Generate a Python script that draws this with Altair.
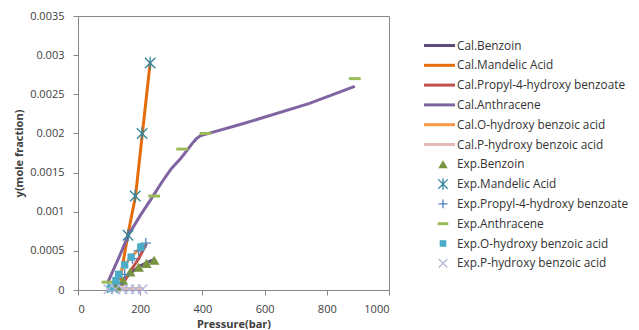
import altair as alt
import pandas as pd

# ---------------- data ----------------
cal_benzoin_p = [120, 145, 170, 200, 245]
cal_benzoin_y = [0.00002, 0.00012, 0.00022, 0.00031, 0.00039]

cal_mandelic_p = [135, 160, 185, 207, 232]
cal_mandelic_y = [0.00012, 0.0007, 0.0012, 0.002, 0.0029]

cal_propyl_p = [140, 165, 195, 220]
cal_propyl_y = [0.00005, 0.00022, 0.0004, 0.00059]

cal_anthracene_p = [95, 130, 163, 200, 238, 270, 300, 330, 350, 367, 380, 393, 420, 527, 742, 890]
cal_anthracene_y = [0.00009, 0.0004, 0.00071, 0.00095, 0.00118, 0.00138, 0.00155,
                    0.00168, 0.00178, 0.00187, 0.00193, 0.00197, 0.002, 0.00212, 0.00238, 0.0026]

cal_ohydroxy_p = [115, 131, 150, 171, 202]
cal_ohydroxy_y = [0.00002, 0.0002, 0.00032, 0.00042, 0.00055]

cal_phydroxy_p = [100, 130, 160, 190, 210]
cal_phydroxy_y = [0.00002, 0.00002, 0.00002, 0.00002, 0.00002]

exp_benzoin_p = [125, 145, 168, 195, 220, 245]
exp_benzoin_y = [0.00005, 0.00012, 0.00023, 0.00029, 0.00034, 0.00038]

exp_mandelic_p = [110, 161, 184, 206, 232]
exp_mandelic_y = [0.00003, 0.0007, 0.0012, 0.002, 0.0029]

exp_propyl_p = [130, 150, 175, 195, 218]
exp_propyl_y = [0.00008, 0.0002, 0.0004, 0.0005, 0.0006]

exp_anthracene_p = [95, 245, 335, 410, 890]
exp_anthracene_y = [0.0001, 0.0012, 0.0018, 0.002, 0.0027]

exp_ohydroxy_p = [104, 122, 131, 150, 171, 202]
exp_ohydroxy_y = [0.00002, 0.00012, 0.0002, 0.00032, 0.00042, 0.00055]

exp_phydroxy_p = [98, 120, 143, 165, 186, 208]
exp_phydroxy_y = [0.00001, 0.00001, 0.00001, 0.00001, 0.00001, 0.00001]

x_ticks = [0, 200, 400, 600, 800, 1000]
y_ticks = [0, 0.0005, 0.001, 0.0015, 0.002, 0.0025, 0.003, 0.0035]

cal_series = [
    ("Cal.Benzoin", cal_benzoin_p, cal_benzoin_y, "#604A7B"),
    ("Cal.Mandelic Acid", cal_mandelic_p, cal_mandelic_y, "#E46C0A"),
    ("Cal.Propyl-4-hydroxy benzoate", cal_propyl_p, cal_propyl_y, "#C0504D"),
    ("Cal.Anthracene", cal_anthracene_p, cal_anthracene_y, "#8064A2"),
    ("Cal.O-hydroxy benzoic acid", cal_ohydroxy_p, cal_ohydroxy_y, "#F79646"),
    ("Cal.P-hydroxy benzoic acid", cal_phydroxy_p, cal_phydroxy_y, "#E6B9B8"),
]

ASTER = "M-1,-1L1,1M-1,1L1,-1M0,-1.2L0,1.2"
PLUS = "M-1,0L1,0M0,-1L0,1"
DASH = "M-1,0L1,0"
XMARK = "M-1,-1L1,1M-1,1L1,-1"

exp_series = [
    ("Exp.Benzoin", exp_benzoin_p, exp_benzoin_y, "#77933C", "triangle-up", True, 110, 1),
    ("Exp.Mandelic Acid", exp_mandelic_p, exp_mandelic_y, "#31859C", ASTER, False, 110, 1.3),
    ("Exp.Propyl-4-hydroxy benzoate", exp_propyl_p, exp_propyl_y, "#4F81BD", PLUS, False, 100, 1.3),
    ("Exp.Anthracene", exp_anthracene_p, exp_anthracene_y, "#9BBB59", DASH, False, 140, 3),
    ("Exp.O-hydroxy benzoic acid", exp_ohydroxy_p, exp_ohydroxy_y, "#4BACC6", "square", True, 55, 1),
    ("Exp.P-hydroxy benzoic acid", exp_phydroxy_p, exp_phydroxy_y, "#B3B8D9", XMARK, False, 90, 1.3),
]

FONT = "Open Sans"
W, H = 311, 274
ydom = [0, 0.0035]

XAX = alt.Axis(values=x_ticks, title="Pressure(bar)", grid=False, format="d",
               tickSize=5, labelPadding=8, titlePadding=4)
XSC = alt.Scale(domain=[0, 1000], nice=False)

layers = []
first = True
for name, ps, ys, col in cal_series:
    df = pd.DataFrame({"p": ps, "y": ys, "o": list(range(len(ps)))})
    yax = alt.Axis(values=y_ticks, title="y(mole fraction)", grid=False, format="~g",
                   tickSize=5, labelPadding=9, titlePadding=5) if first else None
    first = False
    layers.append(
        alt.Chart(df).mark_line(color=col, strokeWidth=3).encode(
            x=alt.X("p:Q", scale=XSC, axis=XAX),
            y=alt.Y("y:Q", scale=alt.Scale(domain=ydom, nice=False), axis=yax),
            order="o:Q",
        )
    )

for name, ps, ys, col, shp, filled, size, sw in exp_series:
    df = pd.DataFrame({"p": ps, "y": ys})
    if filled:
        mk = alt.Chart(df).mark_point(shape=shp, filled=True, fill=col, size=size, opacity=1, strokeWidth=0)
    else:
        mk = alt.Chart(df).mark_point(shape=shp, filled=False, stroke=col, size=size, opacity=1, strokeWidth=sw)
    layers.append(mk.encode(
        x=alt.X("p:Q", scale=XSC, axis=XAX),
        y=alt.Y("y:Q", scale=alt.Scale(domain=ydom, nice=False), axis=None),
    ))

# ---------------- legend (drawn as marks) ----------------
labels = [s[0] for s in cal_series] + [s[0] for s in exp_series]
LEG_TOP = 29.5
LEG_STEP = 19.8
lscale = alt.Scale(domain=[-LEG_TOP / LEG_STEP, (H - LEG_TOP) / LEG_STEP], reverse=True, nice=False, zero=False)
sym_x = 365
line_x0, line_x1 = 346, 377
text_x = 379

for i, (name, ps, ys, col) in enumerate(cal_series):
    df = pd.DataFrame({"li": [i], "label": [name]})
    layers.append(alt.Chart(df).mark_rule(color=col, strokeWidth=3).encode(
        x=alt.value(line_x0), x2=alt.value(line_x1),
        y=alt.Y("li:Q", scale=lscale, axis=None)))
for j, (name, ps, ys, col, shp, filled, size, sw) in enumerate(exp_series):
    i = j + len(cal_series)
    df = pd.DataFrame({"li": [i], "label": [name]})
    if filled:
        mk = alt.Chart(df).mark_point(shape=shp, filled=True, fill=col, size=size * 0.8, opacity=1, strokeWidth=0)
    else:
        mk = alt.Chart(df).mark_point(shape=shp, filled=False, stroke=col, size=size * 0.8, opacity=1, strokeWidth=sw)
    layers.append(mk.encode(x=alt.value(sym_x), y=alt.Y("li:Q", scale=lscale, axis=None)))

leg_df = pd.DataFrame({"li": list(range(len(labels))), "label": labels})
layers.append(alt.Chart(leg_df).mark_text(align="left", baseline="middle", fontSize=11.8,
                                          font=FONT, color="#333333").encode(
    x=alt.value(text_x), y=alt.Y("li:Q", scale=lscale, axis=None), text="label:N"))

chart = alt.layer(*layers).resolve_scale(y="independent").properties(
    width=W, height=H, padding={"left": 5, "top": 2, "right": 0, "bottom": 0}
).configure_view(stroke="#868686", strokeWidth=1).configure_axis(
    domainColor="#868686", tickColor="#868686", labelColor="#404040",
    labelFont=FONT, labelFontSize=11, titleFont=FONT, titleFontSize=11,
    titleFontWeight="bold", titleColor="#404040"
)

chart.save("out.html", embed_options={"renderer": "svg", "actions": False})
